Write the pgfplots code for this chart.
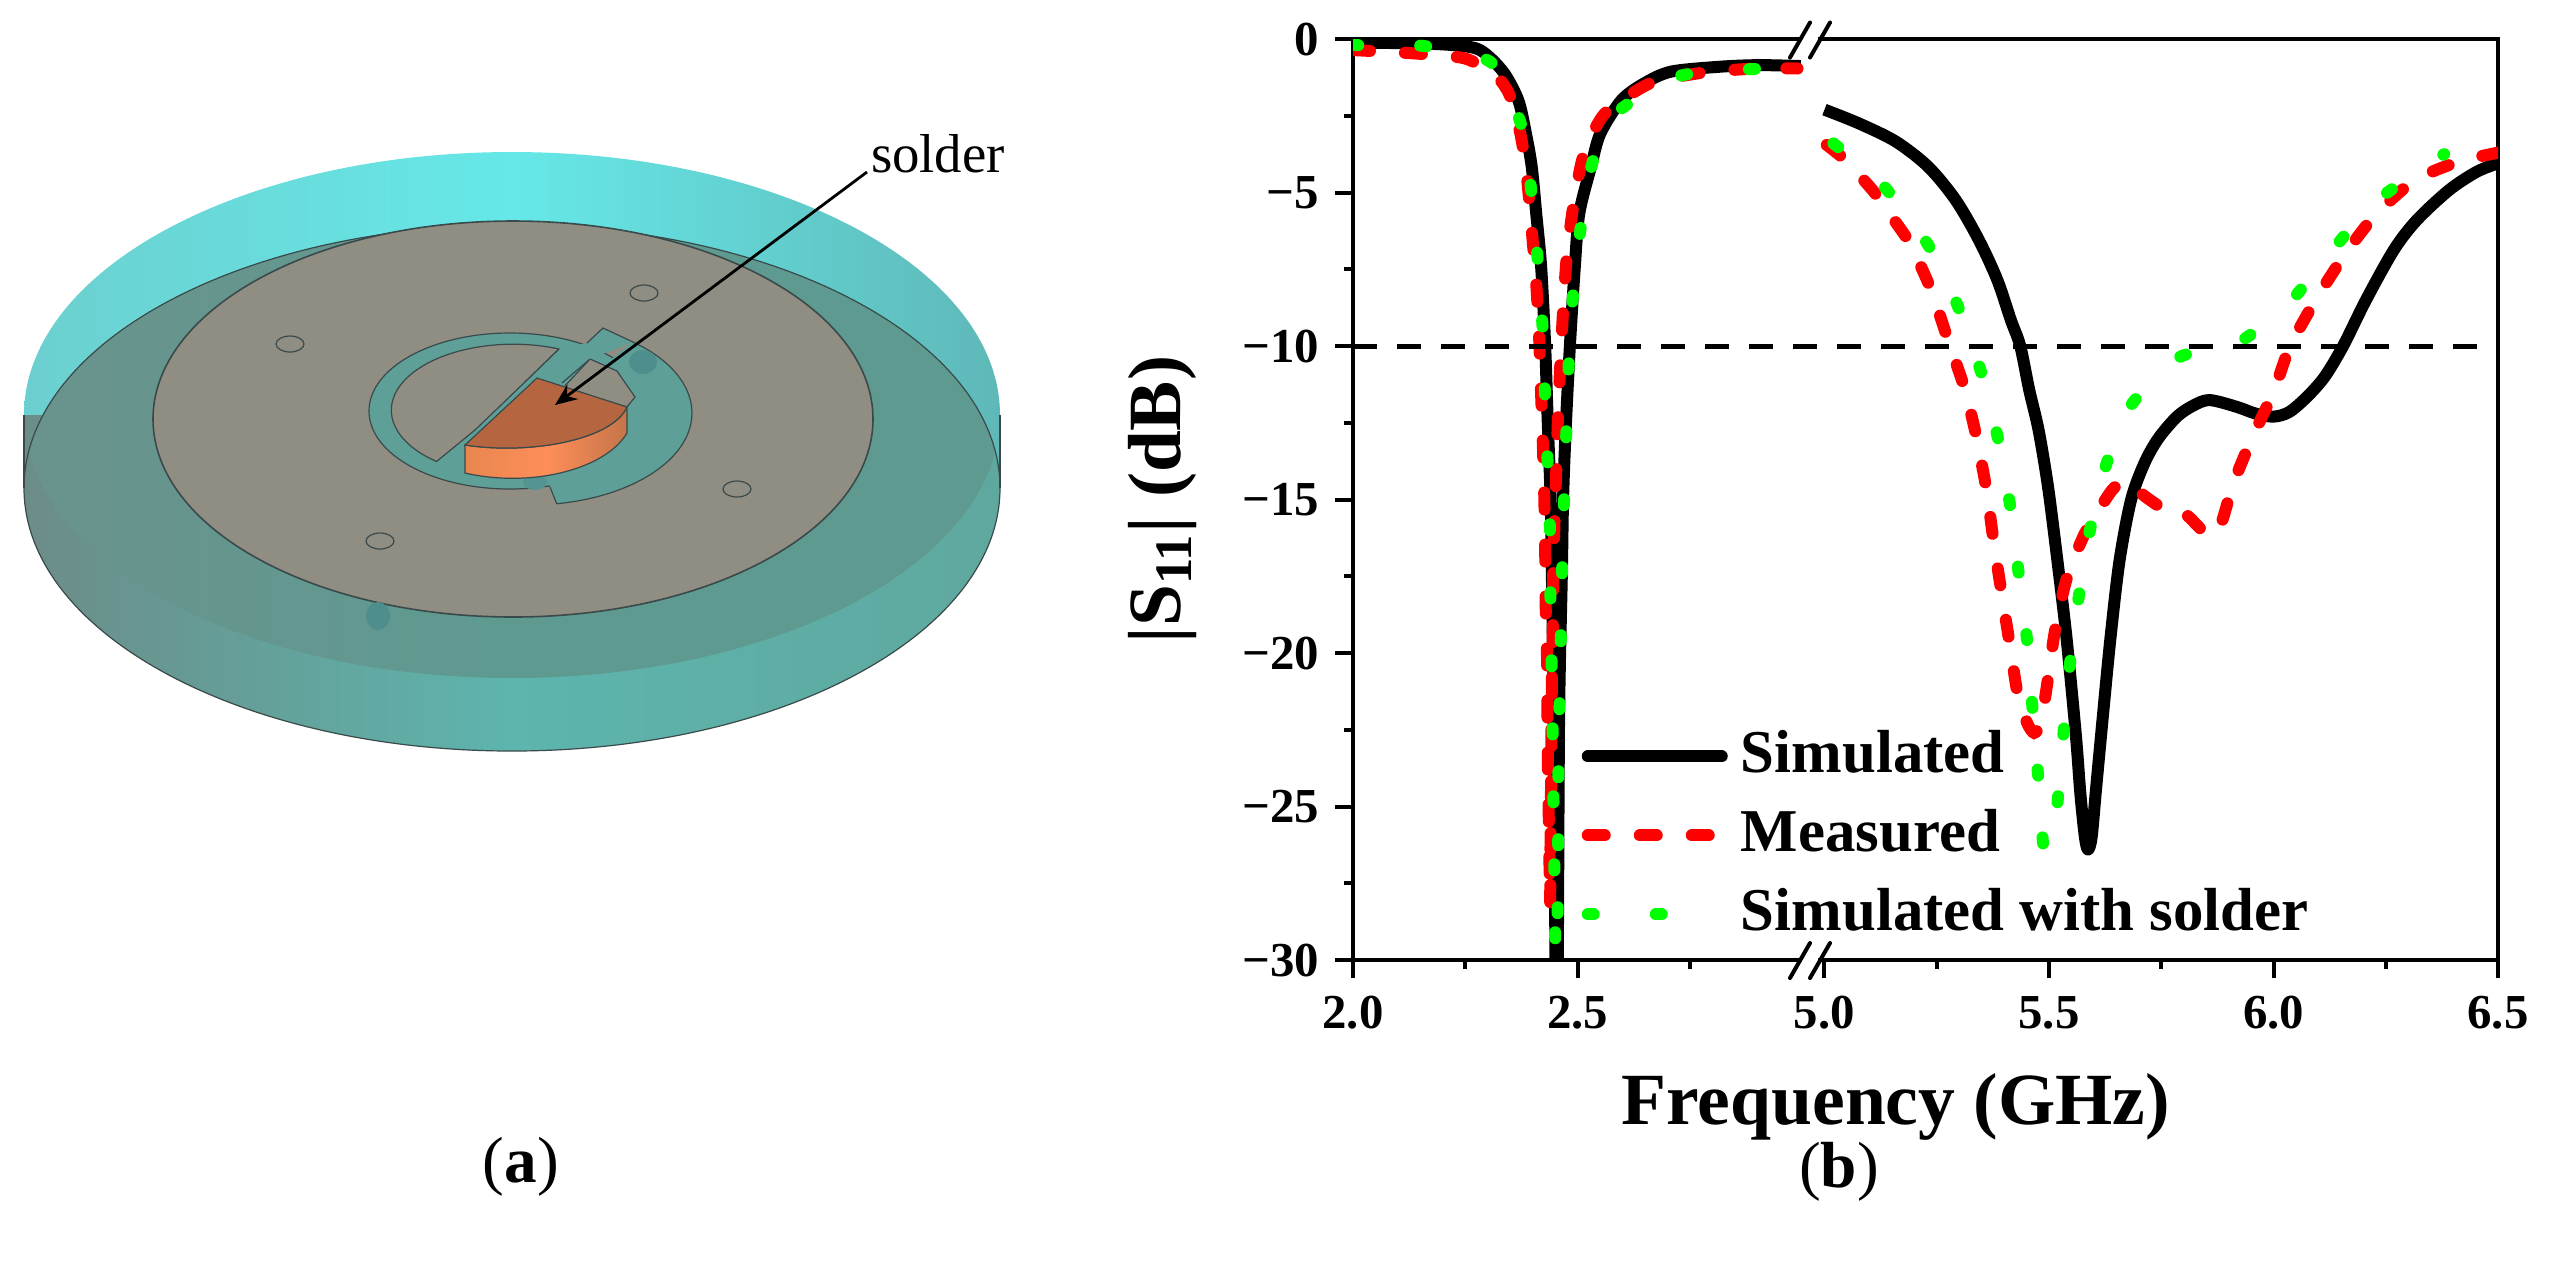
\documentclass[border=0pt]{standalone}
\usepackage{fontspec}
\setmainfont{Liberation Serif}
\usepackage{pgfplots}
\usepackage{pgfplotstable}
\pgfplotsset{compat=1.18}
\usetikzlibrary{arrows.meta}

\definecolor{teal1}{HTML}{5E9F98}
\definecolor{plate}{HTML}{908D83}
\definecolor{edge}{HTML}{3A4A4A}
\definecolor{pincol}{HTML}{4E8E8C}
\definecolor{topL}{HTML}{6CCFCF}
\definecolor{topM}{HTML}{66E8E8}
\definecolor{topR}{HTML}{5FB8B8}
\definecolor{lowL}{HTML}{6C8C88}
\definecolor{lowM}{HTML}{5DB5AD}
\definecolor{lowR}{HTML}{5FA89F}
\definecolor{ovL}{HTML}{6A938D}
\definecolor{ovM}{HTML}{5E9A90}
\definecolor{ovR}{HTML}{5F9A90}
\definecolor{solTop}{HTML}{B5653F}
\definecolor{solL}{HTML}{E88650}
\definecolor{solM}{HTML}{FF8E58}
\definecolor{solR}{HTML}{C4744A}

% simulated
\pgfplotstableread{
f s
2.0 -0.12
2.138 -0.14
2.223 -0.2
2.283 -0.36
2.334 -1.06
2.368 -1.99
2.385 -3.07
2.398 -4.16
2.408 -5.68
2.419 -7.42
2.428 -10.0
2.434 -12.6
2.440 -14.9
2.443 -17.5
2.447 -22
2.451 -30
2.453 -31
2.456 -30
2.459 -22
2.465 -17.5
2.468 -14.9
2.474 -12.6
2.483 -10
2.494 -7.42
2.504 -5.68
2.530 -4.16
2.551 -3.07
2.598 -1.99
2.649 -1.44
2.709 -1.06
2.819 -0.9
2.905 -0.85
2.997 -0.88
}\simleft
\pgfplotstableread{
f s
5.0 -2.3
5.077 -2.75
5.159 -3.34
5.231 -4.16
5.292 -5.24
5.344 -6.55
5.385 -7.85
5.415 -9.15
5.436 -10.0
5.456 -11.43
5.477 -12.75
5.498 -14.6
5.518 -16.9
5.539 -19.5
5.560 -22.7
5.570 -24.6
5.580 -26.0
5.587 -26.4
5.595 -26.0
5.605 -24.4
5.621 -21.9
5.637 -19.5
5.657 -17.0
5.683 -15.0
5.713 -13.8
5.744 -13.0
5.785 -12.3
5.82 -11.95
5.857 -11.76
5.918 -11.98
5.96 -12.2
6.0 -12.3
6.035 -12.15
6.075 -11.65
6.114 -11.0
6.155 -10.0
6.206 -8.5
6.268 -6.87
6.319 -5.9
6.391 -4.92
6.453 -4.32
6.5 -4.05
}\simright

% measured
\pgfplotstableread{
f s
2.0 -0.36
2.138 -0.47
2.249 -0.63
2.317 -1.17
2.347 -1.77
2.368 -2.75
2.385 -4.16
2.40 -6.55
2.409 -8.18
2.415 -9.91
2.419 -11.6
2.423 -13.3
2.426 -14.9
2.428 -16.7
2.429 -18.4
2.432 -20.1
2.433 -21.9
2.434 -23.7
2.436 -25.4
2.438 -27.3
2.439 -28.2
2.440 -25.9
2.441 -24.4
2.442 -22.5
2.443 -20.8
2.445 -19.1
2.446 -17.3
2.449 -15.6
2.453 -13.9
2.457 -12.1
2.462 -10.5
2.468 -8.8
2.476 -7.1
2.491 -5.4
2.514 -3.75
2.561 -2.42
2.662 -1.44
2.777 -1.1
2.896 -0.96
2.99 -0.96
}\measleft
\pgfplotstableread{
f s
5.005 -3.45
5.046 -3.94
5.107 -4.92
5.133 -5.46
5.188 -6.6
5.236 -8.12
5.274 -9.75
5.313 -11.43
5.339 -13.0
5.361 -14.7
5.377 -16.4
5.395 -18.1
5.413 -19.75
5.431 -21.4
5.452 -22.3
5.467 -22.6
5.482 -22.3
5.496 -21.0
5.513 -19.3
5.539 -17.6
5.58 -16.1
5.64 -14.7
5.672 -14.4
5.714 -14.9
5.775 -15.5
5.806 -15.5
5.857 -16.2
5.883 -15.8
5.91 -14.5
5.952 -13.0
6.0 -11.5
6.037 -10.0
6.098 -8.4
6.163 -6.93
6.227 -5.73
6.314 -4.6
6.411 -4.0
6.5 -3.7
}\measright

% simulated with solder
\pgfplotstableread{
f s
2.0 -0.14
2.014 -0.2
2.159 -0.23
2.308 -0.77
2.376 -2.86
2.398 -5.08
2.412 -7.33
2.423 -9.59
2.428 -11.8
2.434 -14.0
2.439 -16.3
2.44 -18.6
2.443 -20.9
2.445 -23.1
2.447 -25.4
2.449 -27.7
2.451 -29.9
2.453 -31
2.455 -29.2
2.457 -26.9
2.457 -24.7
2.459 -22.4
2.462 -20.1
2.465 -17.8
2.469 -15.5
2.474 -13.3
2.479 -11.08
2.487 -8.83
2.503 -6.6
2.526 -4.43
2.574 -2.56
2.721 -1.23
2.873 -0.99
2.99 -0.95
}\soldleft
\pgfplotstableread{
f s
5.02 -3.4
5.13 -4.76
5.231 -6.71
5.297 -8.7
5.349 -10.86
5.387 -13.05
5.414 -15.25
5.433 -17.46
5.452 -19.7
5.464 -21.94
5.477 -24.2
5.49 -26.5
5.516 -25.2
5.53 -23
5.544 -20.7
5.563 -18.5
5.587 -16.3
5.621 -14.17
5.674 -12.1
5.785 -10.4
5.924 -9.86
6.037 -8.56
6.134 -6.82
6.232 -5.24
6.38 -3.75
}\soldright

\begin{document}
\begin{tikzpicture}
\useasboundingbox (0,0) rectangle (637.5pt,-317pt);

% panel (a): the model, in reference pixels
\begin{scope}[x=0.25pt,y=-0.25pt]
\def\botdisc{(512,488) ellipse [x radius=488,y radius=263]}
\def\topdisc{(512,415) ellipse [x radius=488,y radius=263]}
\shade[left color=topL,right color=topR,middle color=topM] \topdisc;
\shade[left color=lowL,right color=topR,middle color=topM] (24,415) rectangle (1000,488);
\shade[left color=lowL,right color=lowR,middle color=lowM] \botdisc;
\begin{scope}
\clip \botdisc;
\shade[left color=ovL,right color=ovR,middle color=ovM] \topdisc;
\end{scope}
\draw[edge,line width=0.3pt] \botdisc;
\draw[edge,line width=0.3pt] (24,415) -- (24,488) (1000,415) -- (1000,488);
% plate
\filldraw[fill=plate,draw=edge,line width=0.4pt] (513,419) ellipse [x radius=360,y radius=198];
\fill[pincol] (378,616) ellipse [x radius=12,y radius=14];
\foreach \hx/\hy in {644/293,290/344,737/489,380/541}
  \draw[edge,line width=0.3pt,fill=plate] (\hx,\hy) ellipse [x radius=14,y radius=8];
% ring
\filldraw[fill=teal1,draw=edge,line width=0.3pt] (510,411) ellipse [x radius=141,y radius=78];
\fill[teal1] (633,342) arc[start angle=-50.5,end angle=80.5,x radius=162,y radius=92] -- (550,487) -- (560,400) -- cycle;
\draw[edge,line width=0.3pt] (633,342) arc[start angle=-50.5,end angle=80.5,x radius=162,y radius=92] -- (550,487);
\fill[pincol] (643,362) ellipse [x radius=14,y radius=12];
\fill[pincol!60!teal1] (535,482) ellipse [x radius=12,y radius=8];
% inner grey parts
\filldraw[fill=plate,draw=edge,line width=0.3pt] (559,349) arc[start angle=-68,end angle=-231,x radius=122,y radius=66] -- (475,430) -- (525,382) -- cycle;
\filldraw[fill=plate,draw=edge,line width=0.3pt] (590,359) -- (617,371) -- (635,397) -- (627,407) -- (563,388) -- cycle;
% stub
\fill[teal1] (587,343) -- (603,328) -- (633,342) -- (590,359) -- (562,383) -- (525,382) -- (559,349) -- cycle;
\draw[edge,line width=0.3pt] (587,343) -- (603,328) -- (633,342) (590,359) -- (562,383) (525,382) -- (559,349);
% solder
\shade[left color=solL,right color=solR,middle color=solM,draw=edge,line width=0.3pt] (465,445) .. controls (530,455) and (612,440) .. (627,407) -- (627,433) .. controls (605,470) and (530,488) .. (465,473) -- cycle;
\filldraw[fill=solTop,draw=edge,line width=0.3pt] (537,378) -- (627,407) .. controls (612,440) and (530,455) .. (465,445) -- cycle;
% arrow and text
\draw[line width=0.7pt,-{Stealth[length=5.5pt,width=4.5pt]}] (867,172) -- (555,405);
\node[anchor=center,font=\fontsize{13.7}{16}\selectfont] at (938,154) {solder};
\node[anchor=base,inner sep=0pt,font=\fontsize{16.3}{18}\selectfont] at (521,1182) {(\textbf{a})};
\node[anchor=base,inner sep=0pt,font=\fontsize{16.3}{18}\selectfont] at (1839,1187) {(\textbf{b})};
\end{scope}

\begin{axis}[
    at={(338.25pt,-240pt)},
    anchor=south west,
    scale only axis,
    width=286.25pt,
    height=230.25pt,
    xmin=2, xmax=6.5,
    ymin=-30, ymax=0,
    x coord trafo/.code={\pgfmathparse{#1>4 ? #1-1.95 : #1}},
    xtick={2,2.5,5,5.5,6,6.5},
    xticklabels={2.0,2.5,5.0,5.5,6.0,6.5},
    minor xtick={2.25,2.75,5.25,5.75,6.25},
    ytick={0,-5,-10,-15,-20,-25,-30},
    yticklabels={0,−5,−10,−15,−20,−25,−30},
    minor ytick={-2.5,-7.5,-12.5,-17.5,-22.5,-27.5},
    tick align=outside,
    xtick pos=bottom,
    ytick pos=left,
    axis line style={line width=1pt},
    tick style={line width=1pt,black},
    major tick length=4.5pt,
    minor tick length=2.25pt,
    /pgf/number format/assume math mode=true,
    tick label style={font=\bfseries\fontsize{12.2}{14}\selectfont},
    xticklabel style={yshift=-1pt},
    yticklabel style={xshift=-0.5pt},
    xlabel={\textbf{Frequency (GHz)}},
    xlabel style={font=\fontsize{18.4}{20}\selectfont,inner sep=0pt,at={(axis description cs:0.474,-0.16)},anchor=center},
    ylabel={\textbf{|S\textsubscript{11}| (dB)}},
    ylabel style={font=\fontsize{18.8}{20}\selectfont,at={(axis description cs:-0.166,0.5)},anchor=center},
    legend style={
        at={(0.1886,0.261)},anchor=north west,draw=none,fill=none,
        font=\bfseries\fontsize{15.2}{18}\selectfont,
        row sep=5.75pt,
        column sep=3.3pt,
        nodes={text height=11pt,text depth=3pt,inner sep=0pt},
    },
    legend cell align=left,
    legend image code/.code={\draw[#1,line cap=round] (0pt,0pt) -- (33.5pt,0pt);},
]
\addplot[black,line width=3pt,smooth,tension=0.5,line join=round] table[x=f,y=s] {\simleft};
\addlegendentry{Simulated}
\addplot[black,line width=3pt,smooth,tension=0.5,line join=round,forget plot] table[x=f,y=s] {\simright};

\addplot[red,line width=3pt,line cap=round,dash pattern=on 4.25pt off 8.75pt,smooth,tension=0.4] table[x=f,y=s] {\measleft};
\addlegendentry{Measured}
\addplot[red,line width=3pt,line cap=round,dash pattern=on 4.25pt off 8.75pt,smooth,tension=0.4,forget plot] table[x=f,y=s] {\measright};

\addplot[green,line width=3pt,line cap=round,dash pattern=on 1.5pt off 15.5pt,smooth,tension=0.4] table[x=f,y=s] {\soldleft};
\addlegendentry{Simulated with solder}
\addplot[green,line width=3pt,line cap=round,dash pattern=on 1.5pt off 15.5pt,smooth,tension=0.4,forget plot] table[x=f,y=s] {\soldright};

\addplot[black,line width=1.25pt,dash pattern=on 6pt off 5pt,forget plot] coordinates {(2,-10) (6.47,-10)};
\end{axis}

% axis break
\begin{scope}[x=0.25pt,y=-0.25pt]
\fill[white] (1802,35) rectangle (1818,43);
\fill[white] (1802,956) rectangle (1818,964);
\foreach \yy in {39.5,960} {
  \draw[line width=1pt,line cap=round] (1790,\yy+18) -- (1810,\yy-17);
  \draw[line width=1pt,line cap=round] (1810,\yy+18) -- (1830,\yy-17);
}
\end{scope}
\end{tikzpicture}
\end{document}
